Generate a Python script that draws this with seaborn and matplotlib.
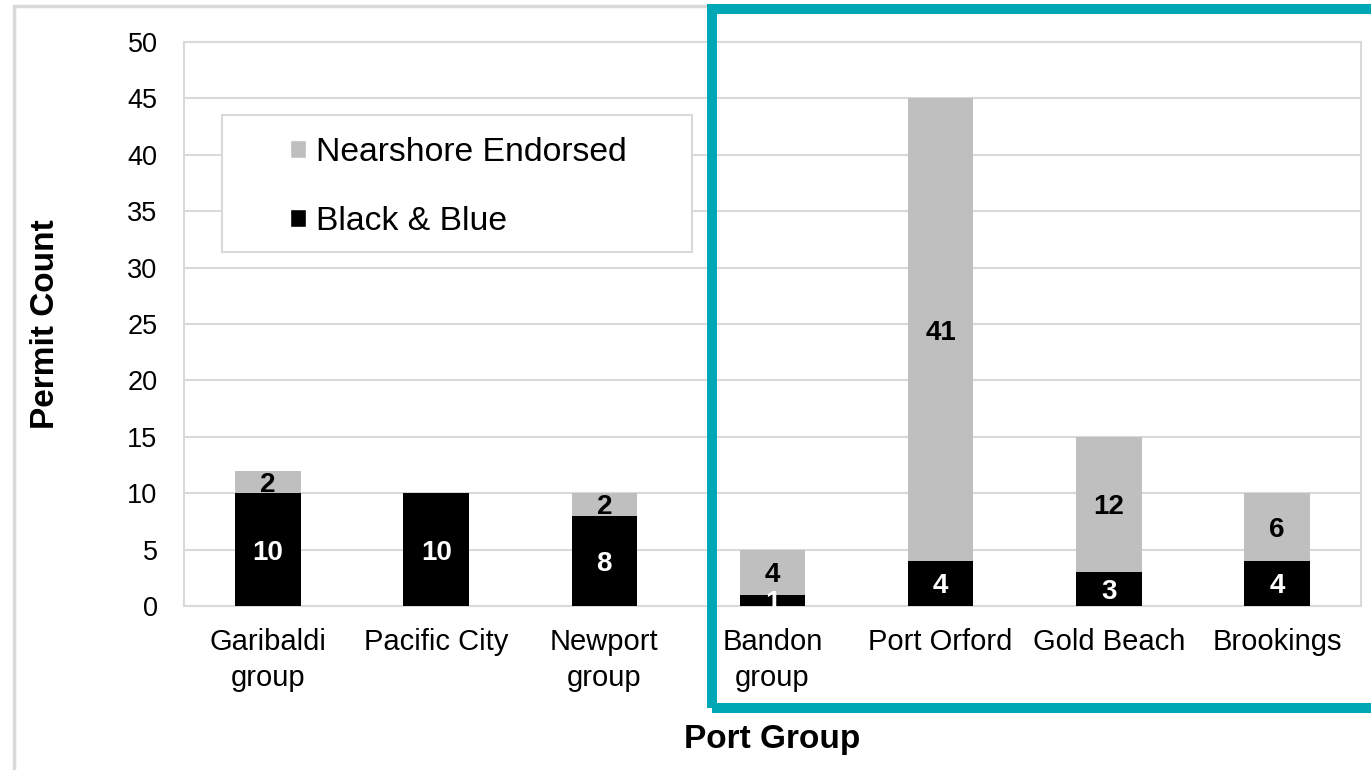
"""Oregon nearshore permit counts by port group - stacked bars"""
import matplotlib
matplotlib.use("Agg")
import matplotlib.pyplot as plt
from matplotlib.patches import Patch, Rectangle
import seaborn as sns
import pandas as pd

# data
port_groups = ["Garibaldi\ngroup", "Pacific City", "Newport\ngroup", "Bandon\ngroup",
               "Port Orford", "Gold Beach", "Brookings"]
black_blue = [10, 10, 8, 1, 4, 3, 4]
nearshore = [2, 0, 2, 4, 41, 12, 6]

GRAY = "#bfbfbf"
BLACK = "#000000"
GRID = "#d9d9d9"
TEAL = "#00a8b6"

sns.set_theme(style="white")
plt.rcParams["font.family"] = ["Liberation Sans", "DejaVu Sans"]
plt.rcParams["text.color"] = "black"

df = pd.DataFrame({"port": port_groups, "bb": black_blue, "ne": nearshore})
df["total"] = df["bb"] + df["ne"]

fig = plt.figure(figsize=(13.71, 7.70), dpi=100)
ax = fig.add_axes([184 / 1371, 1 - 606 / 770, 1177 / 1371, 564 / 770])

# gray = total height, black drawn over it
sns.barplot(data=df, x="port", y="total", color=GRAY, width=0.39, saturation=1,
            edgecolor="none", linewidth=0, ax=ax, zorder=2)
sns.barplot(data=df, x="port", y="bb", color=BLACK, width=0.39, saturation=1,
            edgecolor="none", linewidth=0, ax=ax, zorder=3)

# segment labels
for i, row in df.iterrows():
    if row["bb"] > 0:
        ax.text(i, row["bb"] / 2, str(row["bb"]), ha="center", va="center_baseline",
                color="white", fontsize=20, fontweight="bold", zorder=4)
    if row["ne"] > 0:
        ax.text(i, row["bb"] + row["ne"] / 2, str(row["ne"]), ha="center", va="center_baseline",
                color="black", fontsize=20, fontweight="bold", zorder=4)

ax.set_ylim(0, 50)
ax.set_xlim(-0.5, len(port_groups) - 0.5)
ax.set_yticks(range(0, 51, 5))
ax.yaxis.grid(True, color=GRID, linewidth=1.5, zorder=0)
ax.set_axisbelow(True)
for s in ax.spines.values():
    s.set_color(GRID)
    s.set_linewidth(1.5)
ax.tick_params(axis="y", length=0, pad=19, labelsize=19.5, labelcolor="black")
ax.tick_params(axis="x", length=0, pad=16, labelsize=21, labelcolor="black")
for t in ax.get_xticklabels():
    t.set_linespacing(1.35)
ax.set_ylabel("Permit Count", fontsize=24, fontweight="bold", labelpad=48, color="black")
ax.set_xlabel("Port Group", fontsize=24, fontweight="bold", labelpad=23, color="black")

# legend box drawn by hand, entries without frame
ax.add_patch(Rectangle(((222 - 184) / 1177, (606 - 252) / 564), 470 / 1177, 137 / 564,
                       transform=ax.transAxes, facecolor="white", edgecolor=GRID,
                       linewidth=1.5, zorder=5))
handles = [Patch(facecolor=GRAY, label="Nearshore Endorsed"),
           Patch(facecolor=BLACK, label="Black & Blue")]
leg = ax.legend(handles=handles, loc="upper left",
                bbox_to_anchor=((290 - 184) / 1177, (606 - 137) / 564),
                frameon=False, fontsize=24.3, borderpad=0, borderaxespad=0,
                handlelength=0.47, handleheight=0.47, handletextpad=0.3,
                labelspacing=1.12, labelcolor="black")
leg.set_zorder(6)

# outer frame and highlight box
fig.patches.append(Rectangle((14 / 1371, -0.2), 1.2, 1.2 - 6 / 770, transform=fig.transFigure,
                             fill=False, edgecolor=GRID, linewidth=2.5))
fig.patches.append(Rectangle((712 / 1371, 1 - 708 / 770), 1.0, 699 / 770, transform=fig.transFigure,
                             fill=False, edgecolor=TEAL, linewidth=7.2))

plt.savefig("out.png", dpi=100)
plt.close()
